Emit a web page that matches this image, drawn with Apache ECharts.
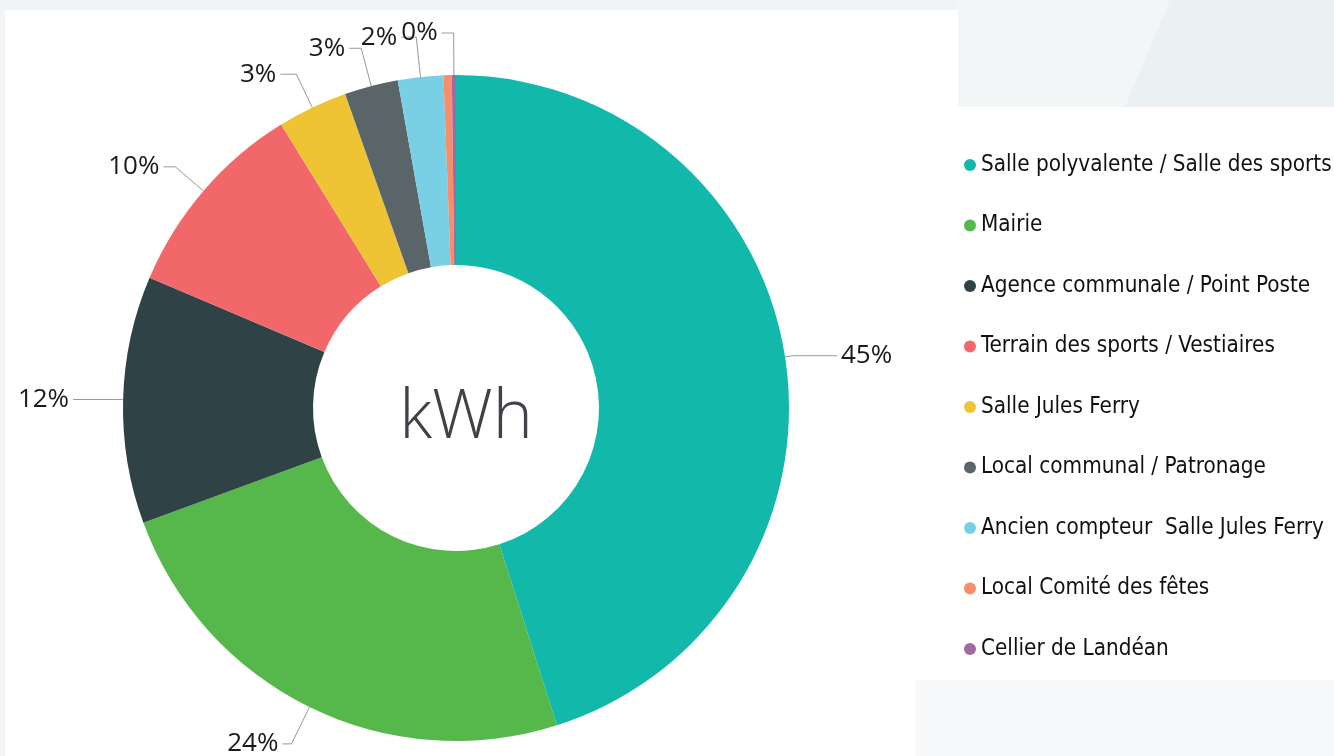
<!DOCTYPE html>
<html>
<head>
<meta charset="utf-8">
<script src="https://cdn.jsdelivr.net/npm/echarts@6/dist/echarts.min.js"></script>
<style>html,body{margin:0;padding:0;background:#fff;}#c{width:1334px;height:756px;}</style>
</head>
<body>
<div id="c"></div>
<script>
const categories = [
  'Salle polyvalente / Salle des sports',
  'Mairie',
  'Agence communale / Point Poste',
  'Terrain des sports / Vestiaires',
  'Salle Jules Ferry',
  'Local communal / Patronage',
  'Ancien compteur  Salle Jules Ferry',
  'Local Comité des fêtes',
  'Cellier de Landéan'
];
const shares = [45.1, 24.3, 12.0, 9.8, 3.4, 2.6, 2.2, 0.4, 0.2];
const colors = ['#12b9ab', '#56b84b', '#2f4246', '#f2686a', '#efc434', '#596569', '#79cfe4', '#f68d6b', '#a0699f'];
const lineLen = [[8, 44], [41, 9], [5, 45], [37, 12], [37, 16], [39, 12], [40, 15], [0, 0], [42, 12]];
const showLabel = [true, true, true, true, true, true, true, false, true];

// choose legend font size so the longest entry fits the legend box width
const legendFont = '"Liberation Sans Narrow", "DejaVu Sans Condensed", sans-serif';
const mctx = document.createElement('canvas').getContext('2d');
mctx.font = '100px ' + legendFont;
const maxW = Math.max(...categories.map(c => mctx.measureText(c).width));
const legendSize = Math.min(30, Math.floor(352 / maxW * 100 * 10) / 10);

const chart = echarts.init(document.getElementById('c'), null, {renderer: 'canvas'});
const data = categories.map((n, i) => ({
  name: n,
  value: shares[i],
  itemStyle: {color: colors[i]},
  label: {show: showLabel[i]},
  labelLine: {show: showLabel[i], length: lineLen[i][0], length2: lineLen[i][1]}
}));

chart.setOption({
  backgroundColor: '#ffffff',
  animation: false,
  graphic: [
    {type: 'rect', silent: true, z: -10, shape: {x: 0, y: 0, width: 1334, height: 10}, style: {fill: '#f1f4f6'}},
    {type: 'rect', silent: true, z: -10, shape: {x: 958, y: 0, width: 376, height: 107}, style: {fill: '#f3f6f7'}},
    {type: 'polygon', silent: true, z: -9, shape: {points: [[1170, 0], [1334, 0], [1334, 107], [1125, 107]]}, style: {fill: '#ebf0f2'}},
    {type: 'rect', silent: true, z: -10, shape: {x: 0, y: 0, width: 5, height: 756}, style: {fill: '#f1f4f6'}},
    {type: 'rect', silent: true, z: -10, shape: {x: 915, y: 680, width: 419, height: 76}, style: {fill: '#f8f9fa'}},
    {type: 'text', silent: true, z: 10, style: {text: 'kWh', x: 466, y: 419, align: 'center', verticalAlign: 'middle', fontSize: 68, fontWeight: 300, fontFamily: '"Open Sans", "Noto Sans", sans-serif', fill: '#3f4347'}}
  ],
  legend: {
    orient: 'vertical',
    left: 959,
    top: 140,
    icon: 'circle',
    itemWidth: 12,
    itemHeight: 12,
    itemGap: 20.5,
    data: categories,
    textStyle: {fontSize: legendSize, lineHeight: 40, color: '#111', fontFamily: legendFont}
  },
  series: [{
    type: 'pie',
    center: [456, 408],
    radius: [143, 333],
    startAngle: 90,
    clockwise: true,
    avoidLabelOverlap: false,
    label: {
      position: 'outside',
      fontSize: 26,
      color: '#1a1a1a',
      fontFamily: '"Open Sans", "Noto Sans", sans-serif',
      distanceToLabelLine: 4,
      formatter: p => Math.round(p.value) + '%'
    },
    labelLine: {lineStyle: {color: '#9a9a9a', width: 1}},
    itemStyle: {borderWidth: 0},
    emphasis: {disabled: true},
    data: data
  }]
});
</script>
</body>
</html>
